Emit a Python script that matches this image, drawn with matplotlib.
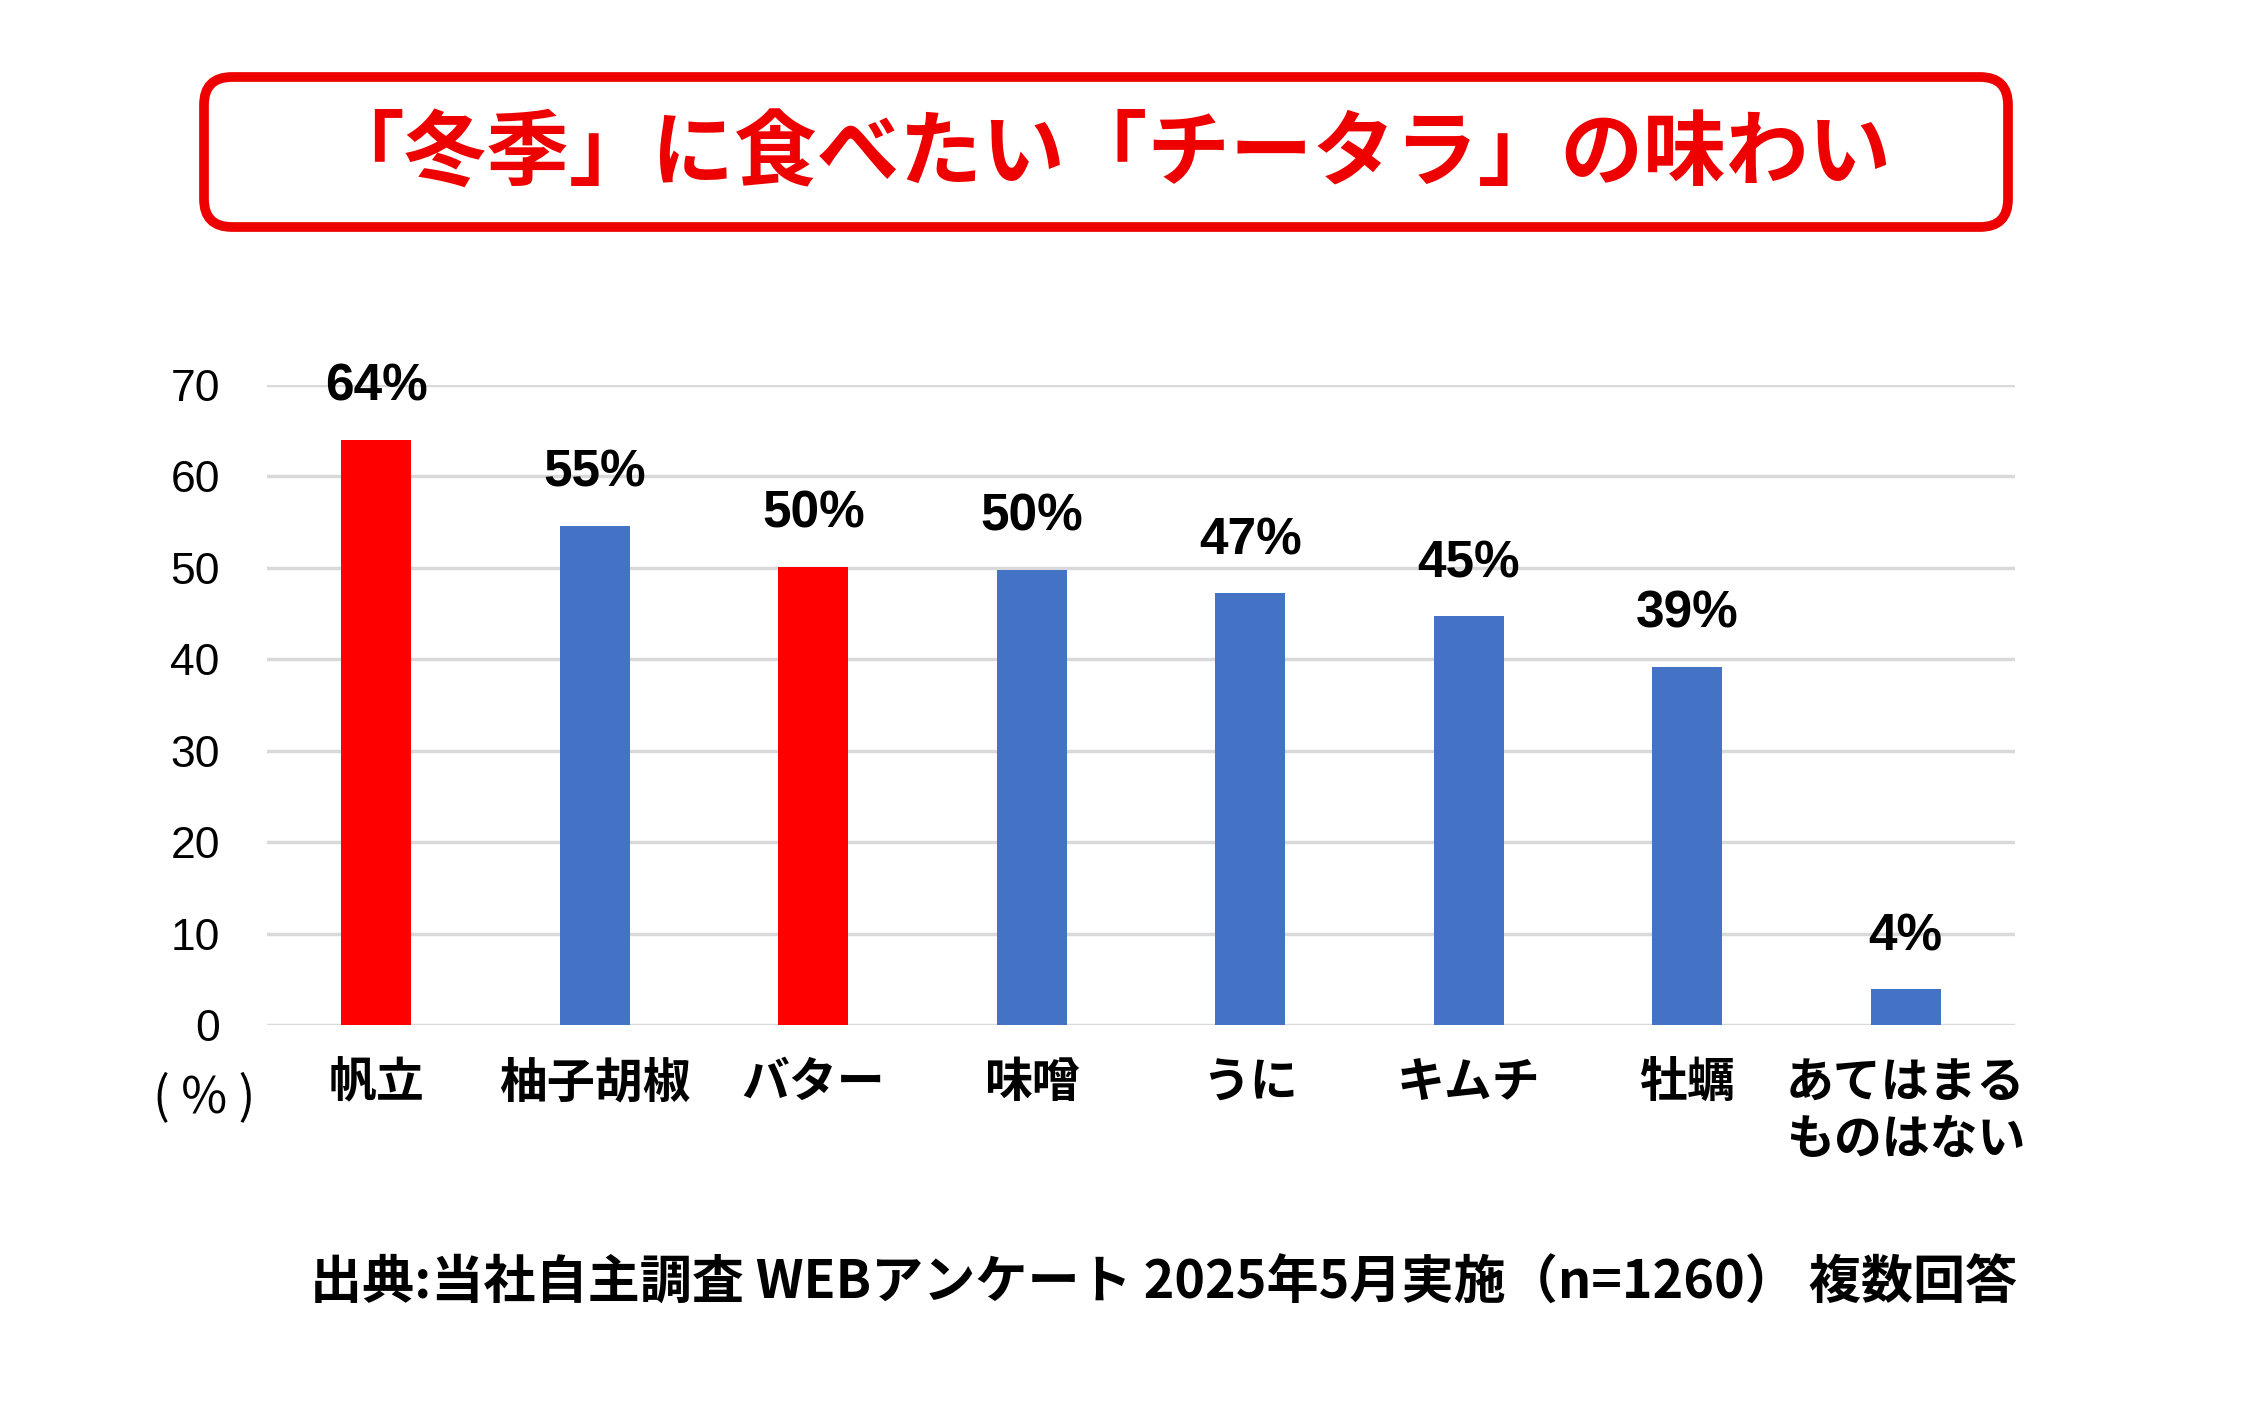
import matplotlib
matplotlib.use("Agg")
import matplotlib.pyplot as plt
from matplotlib.patches import FancyBboxPatch

# -----------------------------
# data
# -----------------------------
categories = ["帆立", "柚子胡椒", "バター", "味噌", "うに", "キムチ", "牡蠣", "あてはまる\nものはない"]
values = [64.0, 54.6, 50.1, 49.8, 47.2, 44.7, 39.2, 3.9]
value_labels = ["64%", "55%", "50%", "50%", "47%", "45%", "39%", "4%"]
highlight = [True, False, True, False, False, False, False, False]
y_ticks = [0, 10, 20, 30, 40, 50, 60, 70]

title = "「冬季」に食べたい「チータラ」の味わい"
source = "出典:当社自主調査 WEBアンケート 2025年5月実施（n=1260） 複数回答"

RED = "#FF0000"
BLUE = "#4472C4"
JP = ["Noto Sans CJK JP", "DejaVu Sans"]
NUM = ["Liberation Sans", "DejaVu Sans"]

W, H = 2268, 1402
fig = plt.figure(figsize=(W / 100, H / 100), dpi=100)

# -----------------------------
# bar chart
# -----------------------------
ax = fig.add_axes([267 / W, 1 - 1025 / H, (2015 - 267) / W, (1025 - 385) / H])
colors = [RED if h else BLUE for h in highlight]
x = list(range(len(categories)))
ax.bar(x, values, width=0.32, color=colors, zorder=3)

for xi, v, lab in zip(x, values, value_labels):
    ax.annotate(lab, (xi, v), xytext=(0, 38), textcoords="offset points",
                ha="center", va="center", fontsize=37, fontweight="bold",
                family=NUM, zorder=4)

ax.set_xlim(-0.5, len(categories) - 0.5)
ax.set_ylim(0, 70)
ax.set_yticks(y_ticks)
ax.set_yticklabels([str(t) for t in y_ticks], fontsize=32, family=NUM)
ax.set_xticks(x)
ax.set_xticklabels(categories, fontsize=34.5, family=JP, fontweight="bold", linespacing=1.2)
ax.tick_params(axis="both", length=0)
ax.tick_params(axis="y", pad=34)
ax.tick_params(axis="x", pad=24)
for lab in ax.get_xticklabels():
    lab.set_verticalalignment("top")

ax.grid(axis="y", color="#D9D9D9", linewidth=2.5, zorder=0)
for s in ax.spines.values():
    s.set_visible(False)

fig.text(204 / W, 1 - 1098 / H, "( % )", fontsize=36, family=JP, ha="center", va="center")
fig.text(1164 / W, 1 - 1283 / H, source, fontsize=37.5, family=JP, fontweight="bold",
         ha="center", va="center")

# -----------------------------
# title box
# -----------------------------
ov = fig.add_axes([0, 0, 1, 1], zorder=5)
ov.set_xlim(0, W)
ov.set_ylim(H, 0)
ov.axis("off")
box = FancyBboxPatch((204, 77), 2008 - 204, 227 - 77,
                     boxstyle="round,pad=0,rounding_size=28",
                     facecolor="white", edgecolor="#EE0000", linewidth=7)
ov.add_patch(box)
ov.text(1106, 154, title, fontsize=59.5, family=JP, fontweight="bold", color="#EE0000",
        ha="center", va="center")

fig.savefig("out.png", dpi=100)
